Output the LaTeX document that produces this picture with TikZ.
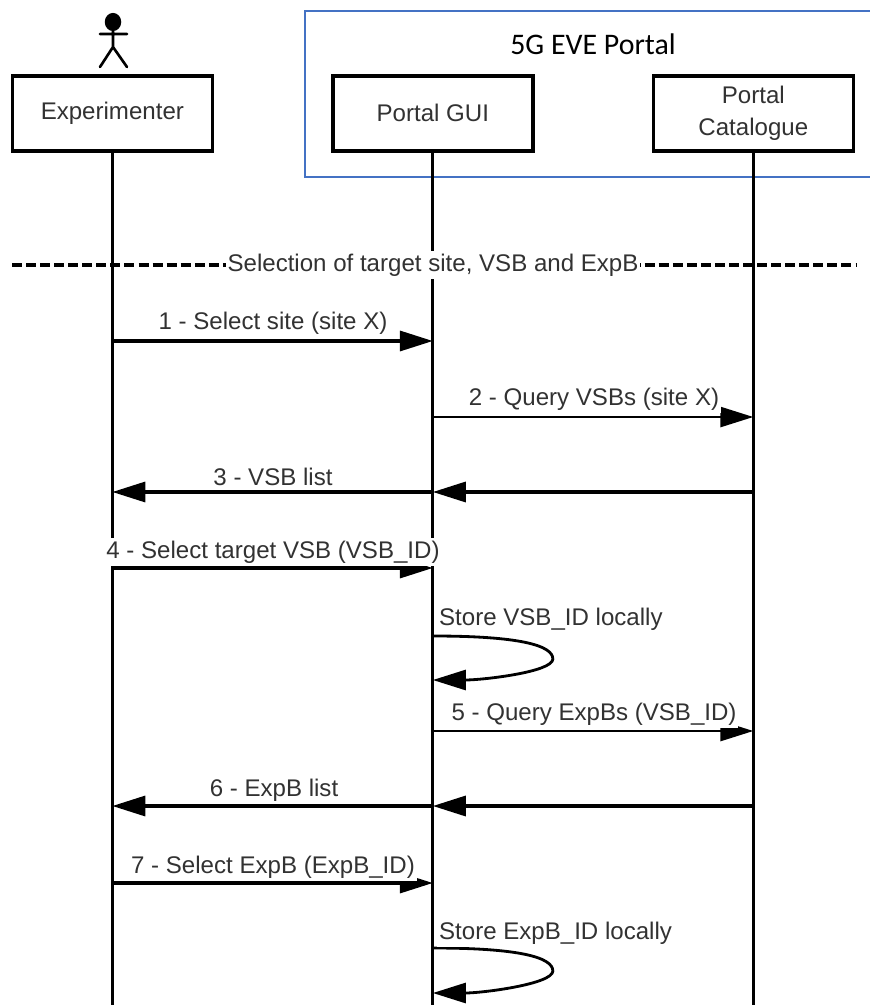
\documentclass[tikz,border=0pt]{standalone}
\usepackage{fontspec}
\setmainfont{Liberation Sans}
\newfontfamily\titlefont{Carlito}
\usetikzlibrary{arrows.meta, positioning, calc}
\definecolor{cPortal}{RGB}{68,114,196}
\definecolor{cText}{RGB}{50,50,50}
\tikzset{
	actorbox/.style ={rectangle, draw=black, line width=2.1pt, fill=white, minimum width=4cm, minimum height=1.5cm, align=center, text=cText, font=\fontsize{13.7}{18}\selectfont},
	lifeline/.style ={line width=1.6pt},
	msg/.style      ={-{Triangle[length=6.6mm, width=4mm]}, line width=1.9pt},
	msgthin/.style  ={-{Triangle[length=6.6mm, width=4mm]}, line width=1.6pt},
	msgtext/.style  ={fill=white, inner xsep=1pt, inner ysep=1.5pt, text=cText, font=\fontsize{13.7}{16}\selectfont},
	stick/.style    ={line width=1.5pt, line cap=round},
}
\begin{document}
\begin{tikzpicture}[x=0.2mm, y=-0.2mm, node distance=2.336cm]
	\useasboundingbox (0,0) rectangle (869,1005);
	\node[actorbox, anchor=north west] (expr) at (10.5,74) {Experimenter};
	\node[actorbox, right=of expr] (gui) {Portal GUI};
	\node[actorbox, right=of gui] (cat) {Portal\\Catalogue};
	% enclosing portal frame
	\draw[cPortal, line width=1pt] (305,11) rectangle (885,177);
	\node[text=black, font=\titlefont\fontsize{17}{20}\selectfont] (portal) at (593,44) {5G EVE Portal};
	% actor figure
	\node[circle, fill=black, inner sep=0, minimum size=0.33cm, yscale=1.1] (head) at (113,22) {};
	\coordinate (neck) at (113,31);
	\coordinate (hip) at (113,47);
	\coordinate (armL) at (100,34);
	\coordinate (armR) at (127,34);
	\coordinate (legL) at (100,67);
	\coordinate (legR) at (127,67);
	\draw[stick] (neck) -- (hip) (armL) -- (armR) (legL) -- (hip) -- (legR);
	% lifelines
	\coordinate (endE) at (expr |- 0,1010);
	\coordinate (endG) at (gui |- 0,1010);
	\coordinate (endC) at (cat |- 0,1010);
	\draw[lifeline] (expr) -- (endE);
	\draw[lifeline] (gui) -- (endG);
	\draw[lifeline] (cat) -- (endC);
	% section line
	\coordinate (secL) at (12,265);
	\coordinate (secR) at (857,265);
	\draw[line width=2pt, dash pattern=on 5.7pt off 2.3pt] (secL) -- (secR);
	\node[msgtext] (sec) at (433,265) {Selection of target site, VSB and ExpB};
	% messages
	\coordinate (e1) at (expr |- 0,341); \coordinate (g1) at (gui |- 0,341);
	\coordinate (g2) at (gui |- 0,417); \coordinate (c2) at (cat |- 0,417);
	\coordinate (e3) at (expr |- 0,492); \coordinate (g3) at (gui |- 0,492); \coordinate (c3) at (cat |- 0,492);
	\coordinate (e4) at (expr |- 0,568); \coordinate (g4) at (gui |- 0,568);
	\coordinate (s1) at (gui |- 0,636); \coordinate (s1b) at (gui |- 0,680);
	\coordinate (g5) at (gui |- 0,731); \coordinate (c5) at (cat |- 0,731);
	\coordinate (e6) at (expr |- 0,806); \coordinate (g6) at (gui |- 0,806); \coordinate (c6) at (cat |- 0,806);
	\coordinate (e7) at (expr |- 0,883); \coordinate (g7) at (gui |- 0,883);
	\coordinate (s2) at (gui |- 0,948); \coordinate (s2b) at (gui |- 0,993);
	\draw[msg] (e1) -- (g1);
	\draw[msgthin] (g2) -- (c2);
	\draw[msg] (c3) -- (g3);
	\draw[msg] (g3) -- (e3);
	\draw[msg] (e4) -- (g4);
	\draw[msgthin] (s1) .. controls +(85,0) and +(0,-14) .. ($(s1)+(120,23)$) .. controls +(0,13) and +(50,0) .. (s1b);
	\draw[msgthin] (g5) -- (c5);
	\draw[msg] (c6) -- (g6);
	\draw[msg] (g6) -- (e6);
	\draw[msg] (e7) -- (g7);
	\draw[msgthin] (s2) .. controls +(85,0) and +(0,-14) .. ($(s2)+(120,23)$) .. controls +(0,13) and +(50,0) .. (s2b);
	% labels
	\node[msgtext] (t1) at (273,323) {1 - Select site (site X)};
	\node[msgtext] (t2) at (594,399) {2 - Query VSBs (site X)};
	\node[msgtext] (t3) at (273,477) {3 - VSB list};
	\node[msgtext] (t4) at (273,552) {4 - Select target VSB (VSB\_ID)};
	\node[msgtext, anchor=west] (t5) at (437,619) {Store VSB\_ID locally};
	\node[msgtext] (t6) at (594,714) {5 - Query ExpBs (VSB\_ID)};
	\node[msgtext] (t7) at (274,790) {6 - ExpB list};
	\node[msgtext] (t8) at (273,867) {7 - Select ExpB (ExpB\_ID)};
	\node[msgtext, anchor=west] (t9) at (437,933) {Store ExpB\_ID locally};
\end{tikzpicture}
\end{document}
